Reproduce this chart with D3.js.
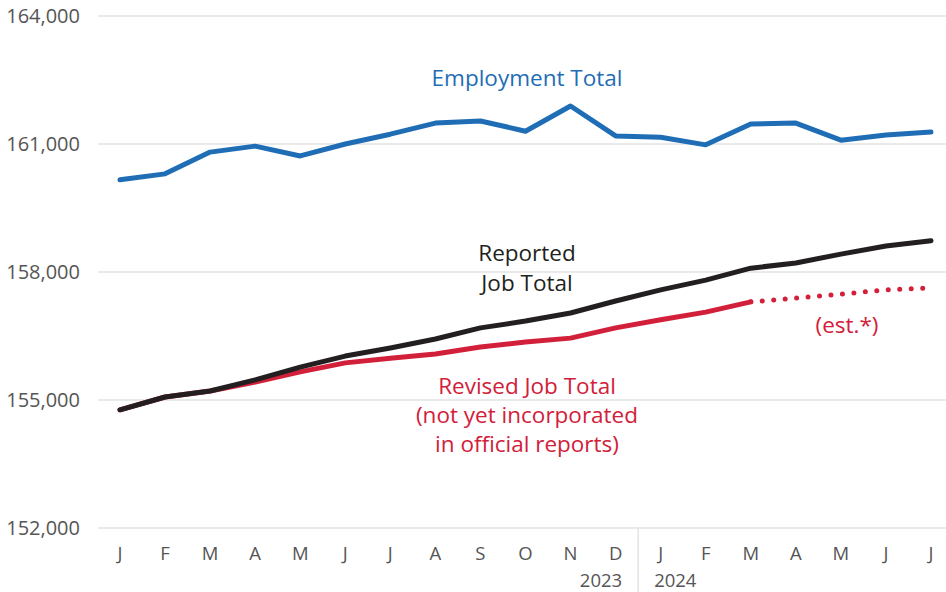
<!DOCTYPE html>
<html>
<head>
<meta charset="utf-8">
<script src="https://cdn.jsdelivr.net/npm/d3@7"></script>
<style>
  body { margin: 0; background: #fff; }
  svg { display: block; font-family: "Open Sans", "Noto Sans", sans-serif; }
</style>
</head>
<body>
<svg id="chart" width="946" height="592"></svg>
<script>
// month labels, Jan 2023 .. Jul 2024
const months = ["J","F","M","A","M","J","J","A","S","O","N","D","J","F","M","A","M","J","J"];
const yTicks = [152000, 155000, 158000, 161000, 164000];

// thousands of jobs
const employment = [160160, 160300, 160810, 160950, 160720, 161000, 161230, 161490, 161540, 161300,
  161890, 161190, 161160, 160980, 161470, 161490, 161090, 161210, 161280];
const reported = [154770, 155070, 155210, 155470, 155770, 156030, 156220, 156430, 156690, 156850,
  157040, 157320, 157580, 157810, 158090, 158210, 158420, 158610, 158730];
const revised = [154770, 155070, 155210, 155420, 155660, 155870, 155980, 156080, 156240, 156360,
  156450, 156690, 156880, 157060, 157300];
// estimate continues from the last revised month (index 14)
const revisedEst = [157300, 157390, 157480, 157580, 157630];

const svg = d3.select("#chart");
const width = 946, height = 592;

const x = d3.scalePoint()
  .domain(d3.range(months.length))
  .range([120, 931]);

const y = d3.scaleLinear()
  .domain([152000, 164000])
  .range([528, 16]);

// grid
svg.append("g")
  .selectAll("line")
  .data(yTicks)
  .join("line")
    .attr("x1", 98)
    .attr("x2", width)
    .attr("y1", d => y(d))
    .attr("y2", d => y(d))
    .style("stroke", "#e3e3e3")
    .style("stroke-width", "1.5px");

// y labels
svg.append("g")
  .selectAll("text")
  .data(yTicks)
  .join("text")
    .attr("x", 80)
    .attr("y", d => y(d) + 7)
    .attr("text-anchor", "end")
    .style("font-size", "20px")
    .style("fill", "#555")
    .text(d => d3.format(",")(d));

// month labels
svg.append("g")
  .selectAll("text")
  .data(months)
  .join("text")
    .attr("x", (d, i) => x(i))
    .attr("y", 560)
    .attr("text-anchor", "middle")
    .style("font-size", "18.5px")
    .style("fill", "#555")
    .text(d => d);

// year divider
const divX = (x(11) + x(12)) / 2;
svg.append("line")
  .attr("x1", divX).attr("x2", divX)
  .attr("y1", 528).attr("y2", 592)
  .style("stroke", "#e3e3e3")
  .style("stroke-width", "1.5px");

svg.append("text")
  .attr("x", divX - 16).attr("y", 587)
  .attr("text-anchor", "end")
  .style("font-size", "18.5px").style("fill", "#555")
  .text("2023");
svg.append("text")
  .attr("x", divX + 16).attr("y", 587)
  .attr("text-anchor", "start")
  .style("font-size", "18.5px").style("fill", "#555")
  .text("2024");

const line = d3.line()
  .x(d => x(d.i))
  .y(d => y(d.v));

function series(values, offset) {
  return values.map((v, k) => ({i: k + (offset || 0), v: v}));
}

const blue = "#1f6db5", red = "#d2203a", black = "#231f20";

svg.append("path")
  .attr("d", line(series(revisedEst, 14)))
  .style("fill", "none")
  .style("stroke", red)
  .style("stroke-width", "5px")
  .style("stroke-linecap", "round")
  .style("stroke-dasharray", "0 11.5")
  .style("stroke-dashoffset", "-11.5");

svg.append("path")
  .attr("d", line(series(revised)))
  .style("fill", "none")
  .style("stroke", red)
  .style("stroke-width", "5px")
  .style("stroke-linejoin", "round")
  .style("stroke-linecap", "round");

svg.append("path")
  .attr("d", line(series(reported)))
  .style("fill", "none")
  .style("stroke", black)
  .style("stroke-width", "5px")
  .style("stroke-linejoin", "round")
  .style("stroke-linecap", "round");

svg.append("path")
  .attr("d", line(series(employment)))
  .style("fill", "none")
  .style("stroke", blue)
  .style("stroke-width", "5px")
  .style("stroke-linejoin", "round")
  .style("stroke-linecap", "round");

// labels
function label(lines, cx, y0, color, lh) {
  const t = svg.append("text")
    .attr("text-anchor", "middle")
    .style("font-size", "22.5px")
    .style("fill", color);
  lines.forEach((s, k) => {
    t.append("tspan").attr("x", cx).attr("y", y0 + k * lh).text(s);
  });
}

label(["Employment Total"], 527, 86, blue, 29);
label(["Reported", "Job Total"], 527, 261, black, 30);
label(["Revised Job Total", "(not yet incorporated", "in official reports)"], 527, 394, red, 29);
label(["(est.*)"], 847, 333, red, 29);
</script>
</body>
</html>
